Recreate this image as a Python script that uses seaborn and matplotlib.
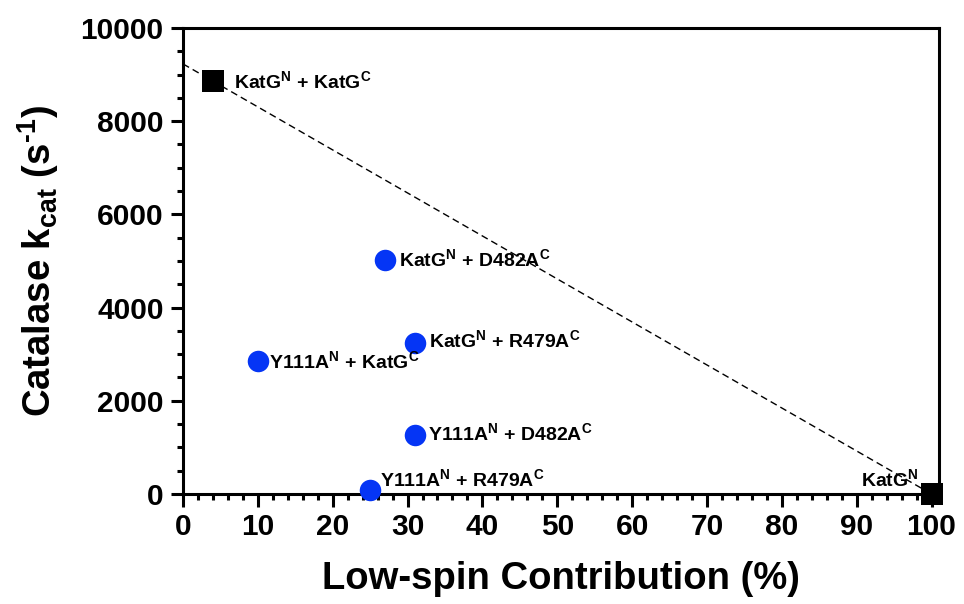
import numpy as np
import pandas as pd
import seaborn as sns
import matplotlib
matplotlib.use("Agg")
import matplotlib.pyplot as plt
from matplotlib.ticker import MultipleLocator

# Wild-type halves (black squares)
wt_labels = [r"KatG$^{\rm N}$ + KatG$^{\rm C}$", r"KatG$^{\rm N}$"]
wt_lowspin = [4, 100]
wt_kcat = [8860, 0]

# Variant combinations (blue circles)
var_labels = [
    r"KatG$^{\rm N}$ + D482A$^{\rm C}$",
    r"KatG$^{\rm N}$ + R479A$^{\rm C}$",
    r"Y111A$^{\rm N}$ + KatG$^{\rm C}$",
    r"Y111A$^{\rm N}$ + D482A$^{\rm C}$",
    r"Y111A$^{\rm N}$ + R479A$^{\rm C}$",
]
var_lowspin = [27, 31, 10, 31, 25]
var_kcat = [5020, 3240, 2850, 1270, 90]

sns.set_theme(style="white", rc={
    "text.color": "black", "axes.labelcolor": "black",
    "xtick.color": "black", "ytick.color": "black",
})
plt.rcParams["font.family"] = ["Liberation Sans", "DejaVu Sans"]
plt.rcParams["font.weight"] = "bold"
plt.rcParams["mathtext.fontset"] = "custom"
plt.rcParams["mathtext.rm"] = "Liberation Sans:bold"
plt.rcParams["mathtext.bf"] = "Liberation Sans:bold"
plt.rcParams["mathtext.it"] = "Liberation Sans:bold"

fig = plt.figure(figsize=(9.64, 6.04), dpi=100)
ax = fig.add_axes([183 / 964, 1 - 494 / 604, (939 - 183) / 964, (494 - 28) / 604])

wt = pd.DataFrame({"x": wt_lowspin, "y": wt_kcat})
var = pd.DataFrame({"x": var_lowspin, "y": var_kcat})

# Straight line through the two wild-type points
slope, intercept = np.polyfit(wt_lowspin, wt_kcat, 1)
line = pd.DataFrame({"x": [0, 100]})
line["y"] = slope * line["x"] + intercept
sns.lineplot(data=line, x="x", y="y", ax=ax, color="black", lw=1.0,
             linestyle=(0, (5, 3)), zorder=2)

sns.scatterplot(data=wt, x="x", y="y", ax=ax, marker="s", s=240,
                color="black", edgecolor="black", linewidth=0, zorder=3, clip_on=False)
sns.scatterplot(data=var, x="x", y="y", ax=ax, marker="o", s=240,
                color="#0535F5", edgecolor="#0535F5", linewidth=0, zorder=3, clip_on=False)

lab_kw = dict(fontsize=14, fontweight="bold", color="black", textcoords="offset points")
ax.annotate(wt_labels[0], (wt_lowspin[0], wt_kcat[0]), xytext=(15, 0),
            ha="left", va="center", **lab_kw)
ax.annotate(wt_labels[1], (wt_lowspin[1], wt_kcat[1]), xytext=(-9, 11),
            ha="right", va="center", **lab_kw)

var_offsets = [(10, 1), (10, 2), (8, 0), (9, 1), (7, 8)]
for lab, x, y, off in zip(var_labels, var_lowspin, var_kcat, var_offsets):
    ax.annotate(lab, (x, y), xytext=off, ha="left", va="center", **lab_kw)

ax.set_xlim(0, 101)
ax.set_ylim(0, 10000)
ax.xaxis.set_major_locator(MultipleLocator(10))
ax.xaxis.set_minor_locator(MultipleLocator(2))
ax.yaxis.set_major_locator(MultipleLocator(2000))
ax.yaxis.set_minor_locator(MultipleLocator(500))

for s in ax.spines.values():
    s.set_linewidth(2.2)
    s.set_color("black")
    s.set_visible(True)

ax.tick_params(axis="both", which="major", direction="out", length=9, width=2.2,
               labelsize=21.5, pad=5, color="black", labelcolor="black",
               bottom=True, left=True)
ax.tick_params(axis="both", which="minor", direction="out", length=4.5, width=2.2,
               color="black", bottom=True, left=True)
for t in ax.get_xticklabels() + ax.get_yticklabels():
    t.set_fontweight("bold")

ax.set_xlabel("Low-spin Contribution (%)", fontsize=27.5, fontweight="bold",
              labelpad=14, color="black")
ax.set_ylabel(r"Catalase k$_{\rm cat}$ (s$^{\text{-1}}$)", fontsize=27.5,
              fontweight="bold", labelpad=14, color="black")

fig.savefig("out.png", dpi=100)
